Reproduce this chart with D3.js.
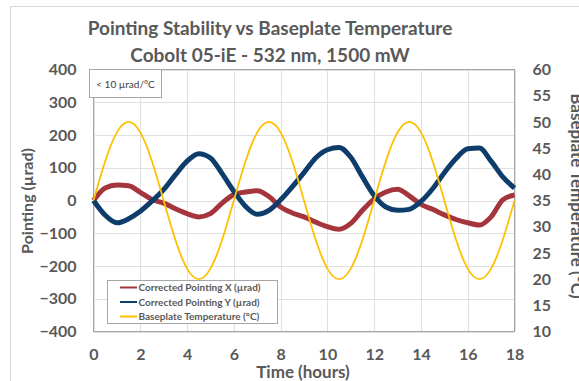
<!DOCTYPE html>
<html>
<head>
<meta charset="utf-8">
<script src="https://cdn.jsdelivr.net/npm/d3@7/dist/d3.min.js"></script>
<style>
  body { margin: 0; background: #fff; }
  svg text { font-family: Lato, "Open Sans", sans-serif; }
</style>
</head>
<body>
<div id="chart"></div>
<script>
// sample times (hours)
const hours = [0, 0.5, 1, 1.5, 2, 2.5, 3, 3.5, 4, 4.5, 5, 5.5, 6, 6.5, 7, 7.5, 8, 8.5, 9,
  9.5, 10, 10.5, 11, 11.5, 12, 12.5, 13, 13.5, 14, 14.5, 15, 15.5, 16, 16.5, 17, 17.5, 18]

// corrected pointing X (µrad)
const pointingX = [0, 38, 47, 45, 25, 3, -8, -25, -40, -50, -40, -8, 18, 26, 30, 12, -20,
  -38, -50, -66, -80, -88, -70, -30, 5, 26, 34, 14, -12, -27, -44, -58, -68, -75, -50, 2, 17]

// corrected pointing Y (µrad)
const pointingY = [0, -45, -68, -56, -33, -2, 33, 78, 120, 143, 130, 82, 28, -18, -42, -30,
  2, 42, 85, 130, 155, 162, 132, 72, 15, -20, -30, -27, -3, 36, 85, 128, 158, 160, 120, 72, 38]

// baseplate temperature (°C)
const temperature = [35, 42.5, 48, 50, 48, 42.5, 35, 27.5, 22, 20, 22, 27.5, 35, 42.5, 48,
  50, 48, 42.5, 35, 27.5, 22, 20, 22, 27.5, 35, 42.5, 48, 50, 48, 42.5, 35, 27.5, 22, 20,
  22, 27.5, 35]

const xTicks = [0, 2, 4, 6, 8, 10, 12, 14, 16, 18]
const leftTicks = [-400, -300, -200, -100, 0, 100, 200, 300, 400]
const rightTicks = [10, 15, 20, 25, 30, 35, 40, 45, 50, 55, 60]

const seriesNames = ['Corrected Pointing X (µrad)', 'Corrected Pointing Y (µrad)', 'Baseplate Temperature (°C)']
const seriesColors = ['#a5353c', '#0e3d6b', '#ffc000']

const width = 579
const height = 381
const plot = { left: 93.5, right: 514.5, top: 69.5, bottom: 331.5 }
const textColor = '#595959'

const svg = d3.select('#chart')
  .append('svg')
  .attr('width', width)
  .attr('height', height)

// outer chart border
svg.append('rect')
  .attr('x', 10.5).attr('y', 6.5)
  .attr('width', 620).attr('height', 420)
  .attr('fill', 'none')
  .attr('stroke', '#d9d9d9')

const x = d3.scaleLinear().domain([0, 18]).range([plot.left, plot.right])
const yLeft = d3.scaleLinear().domain([-400, 400]).range([plot.bottom, plot.top])
const yRight = d3.scaleLinear().domain([10, 60]).range([plot.bottom, plot.top])

// gridlines
svg.append('g')
  .selectAll('line')
  .data(leftTicks)
  .enter()
  .append('line')
  .attr('x1', plot.left).attr('x2', plot.right)
  .attr('y1', d => Math.round(yLeft(d)) + 0.5)
  .attr('y2', d => Math.round(yLeft(d)) + 0.5)
  .attr('stroke', '#e0e0e0')

svg.append('g')
  .selectAll('line')
  .data(xTicks)
  .enter()
  .append('line')
  .attr('y1', plot.top).attr('y2', plot.bottom)
  .attr('x1', d => Math.round(x(d)) + 0.5)
  .attr('x2', d => Math.round(x(d)) + 0.5)
  .attr('stroke', '#e0e0e0')

// plot frame
svg.append('rect')
  .attr('x', plot.left).attr('y', plot.top)
  .attr('width', plot.right - plot.left)
  .attr('height', plot.bottom - plot.top)
  .attr('fill', 'none')
  .attr('stroke', '#a6a6a6')

// axes
const axisLeft = svg.append('g')
  .attr('transform', `translate(${plot.left},0)`)
  .call(d3.axisLeft(yLeft).tickValues(leftTicks).tickSize(0).tickPadding(17))
const axisRight = svg.append('g')
  .attr('transform', `translate(${plot.right},0)`)
  .call(d3.axisRight(yRight).tickValues(rightTicks).tickSize(0).tickPadding(18))
const axisBottom = svg.append('g')
  .attr('transform', `translate(0,${plot.bottom})`)
  .call(d3.axisBottom(x).tickValues(xTicks).tickSize(0).tickPadding(17))

;[axisLeft, axisRight, axisBottom].forEach(g => {
  g.select('.domain').remove()
  g.selectAll('text')
    .attr('fill', textColor)
    .style('font-size', '16px')
    .style('font-weight', 700)
    .style('font-family', 'Lato, sans-serif')
})

// series
const lineX = d3.line()
  .x((d, i) => x(hours[i]))
  .y(d => yLeft(d))
  .curve(d3.curveMonotoneX)

const lineT = d3.line()
  .x((d, i) => x(hours[i]))
  .y(d => yRight(d))
  .curve(d3.curveNatural)

svg.append('path')
  .datum(pointingX)
  .attr('d', lineX)
  .attr('fill', 'none')
  .attr('stroke', seriesColors[0])
  .attr('stroke-width', 5)
  .attr('stroke-linejoin', 'round')

svg.append('path')
  .datum(pointingY)
  .attr('d', lineX)
  .attr('fill', 'none')
  .attr('stroke', seriesColors[1])
  .attr('stroke-width', 5)
  .attr('stroke-linejoin', 'round')

svg.append('path')
  .datum(temperature)
  .attr('d', lineT)
  .attr('fill', 'none')
  .attr('stroke', seriesColors[2])
  .attr('stroke-width', 1.8)

// title
svg.append('text')
  .attr('x', 270).attr('y', 35)
  .attr('text-anchor', 'middle')
  .attr('fill', textColor)
  .style('font-size', '19px').style('font-weight', 700)
  .text('Pointing Stability vs Baseplate Temperature')

svg.append('text')
  .attr('x', 270).attr('y', 62)
  .attr('text-anchor', 'middle')
  .attr('fill', textColor)
  .style('font-size', '19px').style('font-weight', 700)
  .text('Cobolt 05-iE - 532 nm, 1500 mW')

// axis titles
svg.append('text')
  .attr('transform', 'translate(33,201) rotate(-90)')
  .attr('text-anchor', 'middle')
  .attr('fill', textColor)
  .style('font-size', '16px').style('font-weight', 700)
  .text('Pointing (µrad)')

svg.append('text')
  .attr('transform', 'translate(571,196) rotate(90)')
  .attr('text-anchor', 'middle')
  .attr('fill', textColor)
  .style('font-size', '17px').style('font-weight', 700)
  .text('Baseplate Temperature (°C)')

svg.append('text')
  .attr('x', 303).attr('y', 378)
  .attr('text-anchor', 'middle')
  .attr('fill', textColor)
  .style('font-size', '17px').style('font-weight', 700)
  .text('Time (hours)')

// annotation box
svg.append('rect')
  .attr('x', 89.5).attr('y', 69.5)
  .attr('width', 72).attr('height', 28)
  .attr('fill', '#fff')
  .attr('stroke', '#a6a6a6')

svg.append('text')
  .attr('x', 125.5).attr('y', 87.5)
  .attr('text-anchor', 'middle')
  .attr('fill', '#404040')
  .style('font-size', '10px')
  .text('< 10 µrad/°C')

// legend
const legend = svg.append('g')
legend.append('rect')
  .attr('x', 107.5).attr('y', 280.5)
  .attr('width', 170).attr('height', 43)
  .attr('fill', '#fff')
  .attr('stroke', '#a6a6a6')

const rows = legend.selectAll('g.row')
  .data(seriesNames)
  .enter()
  .append('g')
  .attr('class', 'row')
  .attr('transform', (d, i) => `translate(0,${287.5 + i * 14.5})`)

rows.append('line')
  .attr('x1', 120).attr('x2', 137)
  .attr('stroke', (d, i) => seriesColors[i])
  .attr('stroke-width', 2)

rows.append('text')
  .attr('x', 138.5).attr('y', 3.5)
  .attr('fill', textColor)
  .style('font-size', '10px').style('font-weight', 700)
  .text(d => d)
</script>
</body>
</html>
